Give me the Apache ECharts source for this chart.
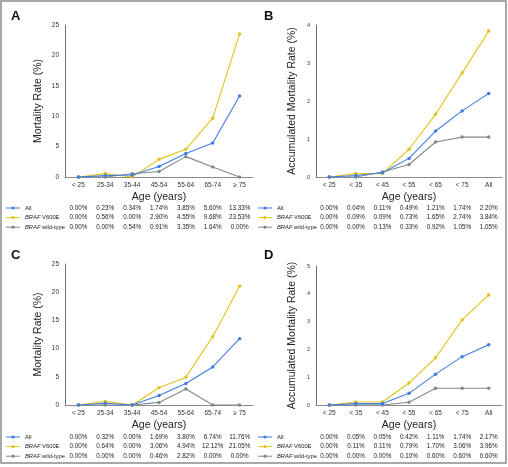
<!DOCTYPE html>
<html><head><meta charset="utf-8">
<script src="https://cdn.jsdelivr.net/npm/echarts@6/dist/echarts.min.js"></script>
<style>html,body{margin:0;padding:0;background:#fff}#c{width:508px;height:467px}</style>
</head><body><div id="c"></div>
<script>
const catsAC = ['< 25','25-34','35-44','45-54','55-64','65-74','≥ 75'];
const catsBD = ['< 25','< 35','< 45','< 55','< 65','< 75','All'];
const seriesNames = ['All','BRAF V600E','BRAF wild-type'];

const aAll   = [0.00,0.23,0.34,1.74,3.85,5.60,13.33];
const aV600E = [0.00,0.56,0.00,2.90,4.55,9.68,23.53];
const aWT    = [0.00,0.00,0.54,0.91,3.35,1.64,0.00];

const bAll   = [0.00,0.04,0.11,0.49,1.21,1.74,2.20];
const bV600E = [0.00,0.09,0.09,0.73,1.65,2.74,3.84];
const bWT    = [0.00,0.00,0.13,0.33,0.92,1.05,1.05];

const cAll   = [0.00,0.32,0.00,1.69,3.80,6.74,11.76];
const cV600E = [0.00,0.64,0.00,3.06,4.94,12.12,21.05];
const cWT    = [0.00,0.00,0.00,0.46,2.82,0.00,0.00];

const dAll   = [0.00,0.05,0.05,0.42,1.11,1.74,2.17];
const dV600E = [0.00,0.11,0.11,0.79,1.70,3.06,3.96];
const dWT    = [0.00,0.00,0.00,0.10,0.60,0.60,0.60];

const yMax = [25,4,25,5];
const yInt = [5,1,5,1];
const panelLabels = ['A','B','C','D'];
const yTitles = ['Mortality Rate (%)','Accumulated Mortality Rate (%)','Mortality Rate (%)','Accumulated Mortality Rate (%)'];
const xTitle = 'Age (years)';

const panels = [
  {cats: catsAC, data:[aAll,aV600E,aWT]},
  {cats: catsBD, data:[bAll,bV600E,bWT]},
  {cats: catsAC, data:[cAll,cV600E,cWT]},
  {cats: catsBD, data:[dAll,dV600E,dWT]}
];

const colors = ['#3f7de3','#e3c41c','#7e8a8a'];
const grids = [
  {left:65, top:25, width:188, height:152},
  {left:316, top:25, width:186, height:152},
  {left:65, top:264, width:188, height:141},
  {left:316, top:266, width:186, height:139}
];
const tableTop = [208, 208, 437, 437];
const rowGap = 9.6;
const keyLeft = [6, 258, 6, 258];
const FONT = '"Liberation Sans", Arial, sans-serif';

const chart = echarts.init(document.getElementById('c'), null, {renderer:'canvas'});

const option = {
  animation:false,
  backgroundColor:'#fff',
  textStyle:{fontFamily:FONT},
  title: panelLabels.map((t,i)=>({
    text:t, left: i%2===0 ? 6 : 259, top: i<2 ? 5 : 244,
    textStyle:{fontSize:13, fontWeight:'bold', color:'#111', fontFamily:FONT}
  })),
  grid: grids.map(g=>Object.assign({containLabel:false}, g)),
  xAxis: panels.map((p,i)=>({
    type:'category', gridIndex:i, data:p.cats, boundaryGap:true,
    name:xTitle, nameLocation:'middle', nameGap:15,
    nameTextStyle:{fontSize:10.5, color:'#222', fontFamily:FONT},
    axisLine:{lineStyle:{color:'#8a8a8a', width:1}},
    axisTick:{show:false},
    axisLabel:{fontSize:6.5, color:'#333', margin:5, interval:0, fontFamily:FONT}
  })),
  yAxis: panels.map((p,i)=>({
    type:'value', gridIndex:i, min:0, max:yMax[i], interval:yInt[i],
    name:yTitles[i], nameLocation:'middle', nameGap: i%2===0 ? 21 : 18,
    nameTextStyle:{fontSize:10.5, color:'#222', fontFamily:FONT},
    axisLine:{show:true, lineStyle:{color:'#6e6e6e', width:1}},
    axisTick:{show:false},
    splitLine:{show:false},
    axisLabel:{fontSize: i%2===0 ? 6.5 : 5.5, color:'#333', margin:6, fontFamily:FONT}
  })),
  series: []
};
panels.forEach((p,i)=>{
  p.data.forEach((d,k)=>{
    option.series.push({
      type:'line', name:seriesNames[k], xAxisIndex:i, yAxisIndex:i, data:d,
      symbol:'circle', symbolSize:3.5, showSymbol:true,
      lineStyle:{color:colors[k], width:1.1},
      itemStyle:{color:colors[k]},
      z: 3-k
    });
  });
});
chart.setOption(option);

// data table (positions from the category axes) with legend keys
const graphics = [];
panels.forEach((p,i)=>{
  p.data.forEach((d,k)=>{
    const y = tableTop[i]+k*rowGap;
    const kx = keyLeft[i];
    graphics.push({type:'line', shape:{x1:kx, y1:y, x2:kx+14, y2:y},
      style:{stroke:colors[k], lineWidth:1}, silent:true});
    graphics.push({type:'circle', shape:{cx:kx+7, cy:y, r:1.6},
      style:{fill:colors[k]}, silent:true});
    const nm = seriesNames[k];
    graphics.push({type:'text', x:kx+19, y:y,
      style:{text: nm.indexOf('BRAF')===0 ? '{i|BRAF}' + nm.slice(4) : nm,
        fontSize:5.8, fontFamily:FONT, fill:'#222', align:'left', verticalAlign:'middle',
        rich:{i:{fontStyle:'italic', fontSize:5.8, fontFamily:FONT, fill:'#222'}}}, silent:true});
    d.forEach((v,j)=>{
      const x = chart.convertToPixel({xAxisIndex:i}, p.cats[j]);
      graphics.push({type:'text', x:x, y:y,
        style:{text:v.toFixed(2)+'%', fontSize:6.3, fontFamily:FONT, fill:'#222',
          align:'center', verticalAlign:'middle'}, silent:true});
    });
  });
});
graphics.push({type:'rect', shape:{x:1, y:1, width:505, height:462},
  style:{fill:'none', stroke:'#8c8c8c', lineWidth:1.5}, silent:true});
chart.setOption({graphic: graphics});
</script>
</body></html>
